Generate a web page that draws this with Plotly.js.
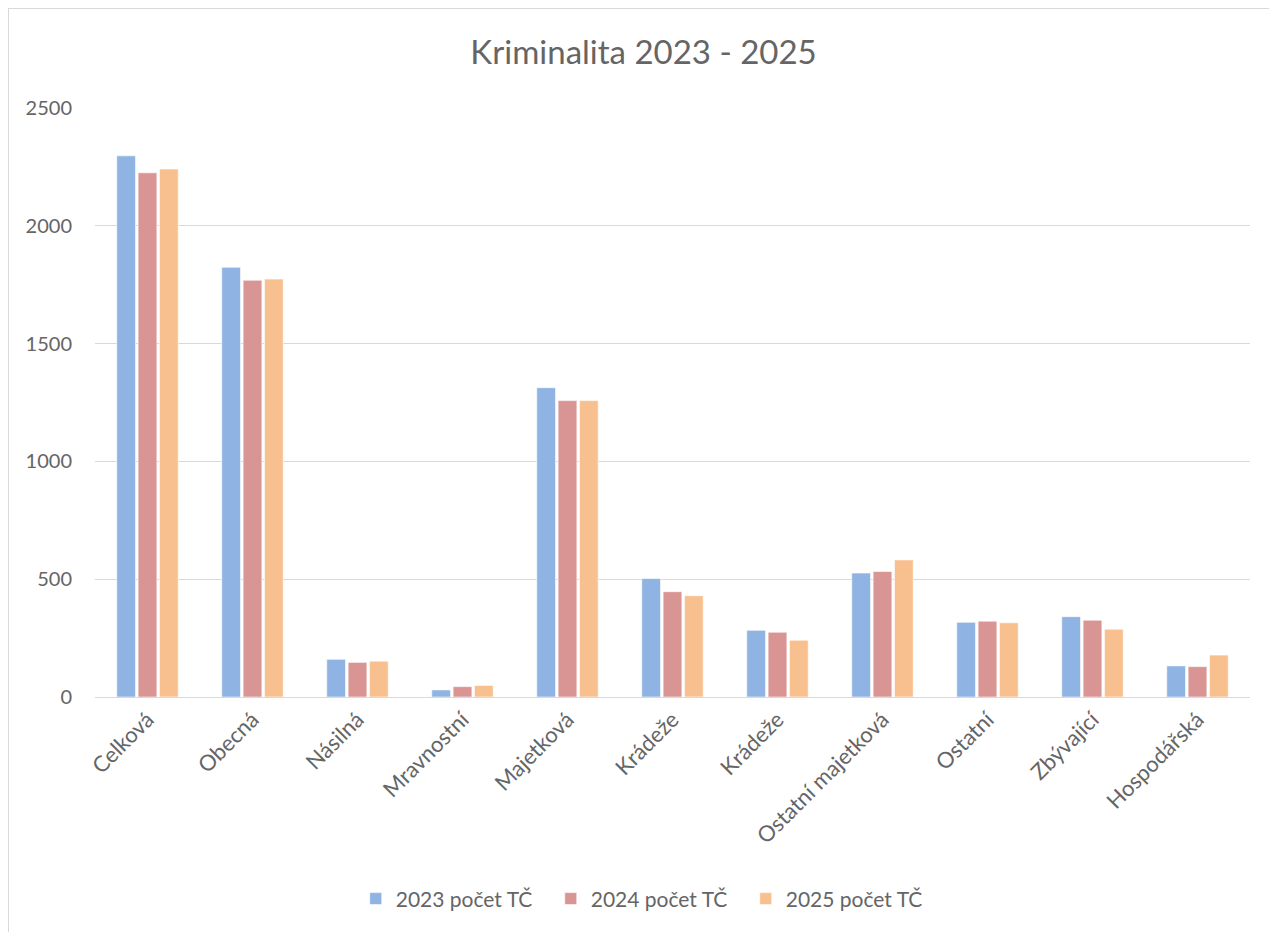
<!DOCTYPE html>
<html>
<head>
<meta charset="utf-8">
<script src="https://cdn.plot.ly/plotly-3.0.1.min.js"></script>
<style>
  html, body { margin: 0; padding: 0; background: #ffffff; }
  #frame { position: absolute; left: 8px; top: 8px; width: 1270px; height: 932px; border: 1px solid #d9d9d9; box-sizing: border-box; }
  #chart { position: absolute; left: 0; top: 0; }
</style>
</head>
<body>
<div id="frame"><div id="chart"></div></div>
<script>
const categories = ["Celková", "Obecná", "Násilná", "Mravnostní", "Majetková", "Krádeže", "Krádeže", "Ostatní majetková", "Ostatní", "Zbývající", "Hospodářská"];
const seriesNames = ["2023 počet TČ", "2024 počet TČ", "2025 počet TČ"];
const values2023 = [2297, 1824, 160, 30, 1313, 503, 283, 526, 317, 341, 132];
const values2024 = [2225, 1769, 147, 44, 1258, 447, 275, 533, 322, 326, 129];
const values2025 = [2241, 1774, 152, 49, 1258, 430, 241, 582, 315, 288, 178];
const colors = ["#8FB3E2", "#D99594", "#F9C08F"];

const xIdx = categories.map((_, i) => i);
const allValues = [values2023, values2024, values2025];

const traces = allValues.map((vals, k) => ({
  type: "bar",
  name: seriesNames[k],
  x: xIdx,
  y: vals,
  marker: { color: colors[k], line: { color: "rgba(255,255,255,0.6)", width: 1 } },
  hoverinfo: "y+name"
}));

const W = 1260, H = 922;
const txt = "#656565";
const layout = {
  width: W,
  height: H,
  paper_bgcolor: "#ffffff",
  plot_bgcolor: "#ffffff",
  font: { family: "Lato, 'Open Sans', sans-serif", color: txt, size: 16 },
  margin: { l: 86, r: 19, t: 99, b: 231 },
  title: {
    text: "Kriminalita 2023 - 2025",
    font: { size: 33, color: txt, family: "Lato, 'Open Sans', sans-serif" },
    x: 0.5036, xanchor: "center",
    y: 1 - 43 / H, yanchor: "middle", yref: "container"
  },
  barmode: "group",
  bargap: 0.39,
  bargroupgap: 0.12,
  xaxis: {
    tickmode: "array",
    tickvals: xIdx,
    ticktext: categories,
    tickangle: -45,
    range: [-0.5, categories.length - 0.5],
    showgrid: false,
    showline: true,
    linecolor: "#d9d9d9",
    linewidth: 1,
    ticks: "",
    tickfont: { size: 22, color: txt },
    zeroline: false
  },
  yaxis: {
    range: [0, 2500],
    dtick: 500,
    tick0: 0,
    showgrid: true,
    gridcolor: "#d9d9d9",
    gridwidth: 1,
    zeroline: false,
    showline: false,
    ticks: "",
    ticklen: 0,
    tickfont: { size: 20, color: txt },
    ticklabelstandoff: 22
  },
  showlegend: true,
  legend: {
    orientation: "h",
    x: 0.479, xanchor: "center",
    y: -203 / 592, yanchor: "middle",
    font: { size: 21, color: txt },
    itemwidth: 30,
    entrywidth: 150,
    traceorder: "normal"
  }
};

Plotly.newPlot("chart", traces, layout, { displayModeBar: false, responsive: false });
</script>
</body>
</html>
